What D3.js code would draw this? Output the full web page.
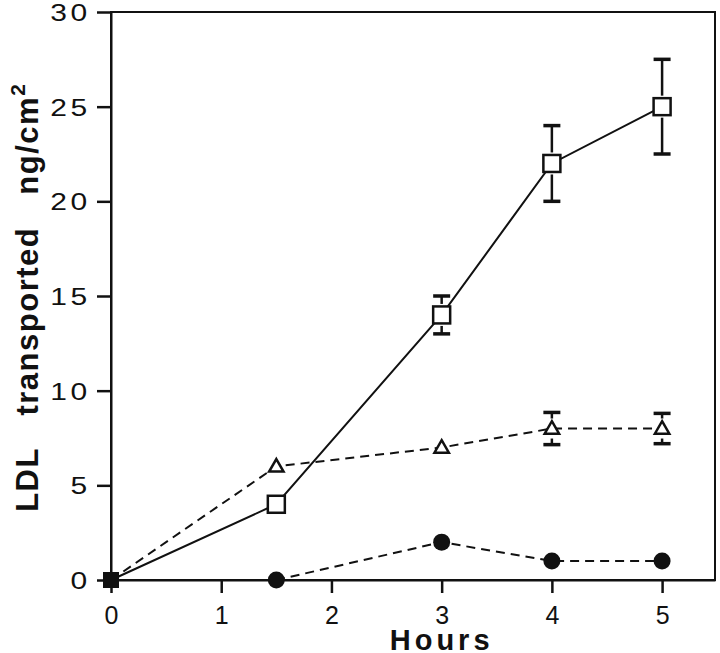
<!DOCTYPE html>
<html>
<head>
<meta charset="utf-8">
<script src="https://cdn.jsdelivr.net/npm/d3@7"></script>
<style>
  body { margin: 0; background: #fff; }
  svg { display: block; }
  .tick text { font-family: "Liberation Sans", Arial, sans-serif; font-size: 24px; fill: #111; }
  .axis-title { font-family: "Liberation Sans", Arial, sans-serif; font-weight: bold; fill: #111; }
</style>
</head>
<body>
<svg id="chart" width="720" height="653"></svg>
<script>
const hours = [0, 1.5, 3, 4, 5];

// open squares, solid line
const squareValues = [0, 4, 14, 22, 25];
const squareErrors = [0, 0, 1, 2, 2.5];

// open triangles, dashed line
const triangleValues = [0, 6, 7, 8, 8];
const triangleErrors = [0, 0, 0, 0.85, 0.8];

// filled circles, dashed line
const circleValues = [0, 0, 2, 1, 1];

const xTicks = [0, 1, 2, 3, 4, 5];
const yTicks = [0, 5, 10, 15, 20, 25, 30];

const svg = d3.select('#chart');
const margin = { left: 111, right: 5, top: 12, bottom: 73 };
const width = 720 - margin.left - margin.right;
const height = 653 - margin.top - margin.bottom;

const xMax = 5.48;
const x = d3.scaleLinear().domain([0, xMax]).range([margin.left, margin.left + width]);
const y = d3.scaleLinear().domain([0, 30]).range([margin.top + height, margin.top]);

const ink = '#111';

// frame
svg.append('rect')
  .attr('x', x(0)).attr('y', y(30))
  .attr('width', x(xMax) - x(0)).attr('height', y(0) - y(30))
  .attr('fill', 'none').attr('stroke', ink).attr('stroke-width', 2);

const xAxis = svg.append('g')
  .attr('transform', `translate(0,${y(0)})`)
  .call(d3.axisBottom(x).tickValues(xTicks).tickSize(13).tickSizeOuter(0).tickPadding(13).tickFormat(d3.format('d')));

const yAxis = svg.append('g')
  .attr('transform', `translate(${x(0)},0)`)
  .call(d3.axisLeft(y).tickValues(yTicks).tickSize(14).tickSizeOuter(0).tickPadding(6).tickFormat(d3.format('d')));

[xAxis, yAxis].forEach((g) => {
  g.select('.domain').attr('stroke', ink).attr('stroke-width', 2);
  g.selectAll('.tick line').attr('stroke', ink).attr('stroke-width', 2.5);
});
xAxis.selectAll('.tick text').style('font-size', '25px');
// y tick digits are wide and spaced in the original
const yStretch = 1.25;
yAxis.selectAll('.tick text')
  .attr('x', -(14 + 6) / yStretch)
  .attr('dy', '0.36em')
  .attr('transform', `scale(${yStretch},1)`)
  .style('letter-spacing', '3px');

// titles
svg.append('text')
  .attr('class', 'axis-title')
  .attr('x', x(3)).attr('y', 650)
  .attr('text-anchor', 'middle')
  .style('font-size', '29px')
  .style('letter-spacing', '4px')
  .text('Hours');

const yTitle = svg.append('text')
  .attr('class', 'axis-title')
  .attr('transform', `translate(38,${y(3.6)}) rotate(-90)`)
  .attr('text-anchor', 'start')
  .style('font-size', '31px')
  .style('word-spacing', '22px')
  .style('letter-spacing', '1.5px');
yTitle.append('tspan').text('LDL transported ng/cm');
yTitle.append('tspan').attr('dy', -13).style('font-size', '21px').text('2');

const points = (vals) => hours.map((h, i) => ({ h, v: vals[i] }));
const line = d3.line().x((d) => x(d.h)).y((d) => y(d.v));

svg.append('path').datum(points(squareValues))
  .attr('d', line).attr('fill', 'none').attr('stroke', ink).attr('stroke-width', 2);
svg.append('path').datum(points(triangleValues))
  .attr('d', line).attr('fill', 'none').attr('stroke', ink).attr('stroke-width', 2)
  .attr('stroke-dasharray', '9,6');
svg.append('path').datum(points(circleValues))
  .attr('d', line).attr('fill', 'none').attr('stroke', ink).attr('stroke-width', 2)
  .attr('stroke-dasharray', '9,6');

// error bars: gap from marker edge then stem to cap
function errorBars(vals, errs, half, capW) {
  const data = hours.map((h, i) => ({ h, v: vals[i], e: errs[i] })).filter((d) => d.e > 0);
  const g = svg.append('g').attr('stroke', ink).attr('stroke-width', 2.5);
  data.forEach((d) => {
    const cx = x(d.h);
    const top = y(d.v + d.e);
    const bot = y(d.v - d.e);
    const cy = y(d.v);
    if (cy - half - 3 > top) g.append('line').attr('x1', cx).attr('x2', cx).attr('y1', cy - half - 3).attr('y2', top);
    if (cy + half + 3 < bot) g.append('line').attr('x1', cx).attr('x2', cx).attr('y1', cy + half + 3).attr('y2', bot);
    g.append('line').attr('x1', cx - capW / 2).attr('x2', cx + capW / 2).attr('y1', top).attr('y2', top).attr('stroke-width', 3.5);
    g.append('line').attr('x1', cx - capW / 2).attr('x2', cx + capW / 2).attr('y1', bot).attr('y2', bot).attr('stroke-width', 3.5);
  });
}
errorBars(squareValues, squareErrors, 8, 17);
errorBars(triangleValues, triangleErrors, 7, 17);

// markers (origin is drawn as a filled square)
const sq = 17;
svg.append('g').selectAll('rect')
  .data(points(squareValues).filter((d) => d.h > 0))
  .join('rect')
  .attr('x', (d) => x(d.h) - sq / 2).attr('y', (d) => y(d.v) - sq / 2)
  .attr('width', sq).attr('height', sq)
  .attr('fill', '#fff').attr('stroke', ink).attr('stroke-width', 2.5);

const tri = d3.symbol().type(d3.symbolTriangle).size(90);
svg.append('g').selectAll('path')
  .data(points(triangleValues).filter((d) => d.h > 0))
  .join('path')
  .attr('transform', (d) => `translate(${x(d.h)},${y(d.v) + 1})`)
  .attr('d', tri)
  .attr('fill', '#fff').attr('stroke', ink).attr('stroke-width', 2.5);

svg.append('g').selectAll('circle')
  .data(points(circleValues).filter((d) => d.h > 0))
  .join('circle')
  .attr('cx', (d) => x(d.h)).attr('cy', (d) => y(d.v))
  .attr('r', 8.5).attr('fill', ink);

svg.append('rect')
  .attr('x', x(0) - 8).attr('y', y(0) - 8)
  .attr('width', 16).attr('height', 16)
  .attr('fill', ink);
</script>
</body>
</html>
